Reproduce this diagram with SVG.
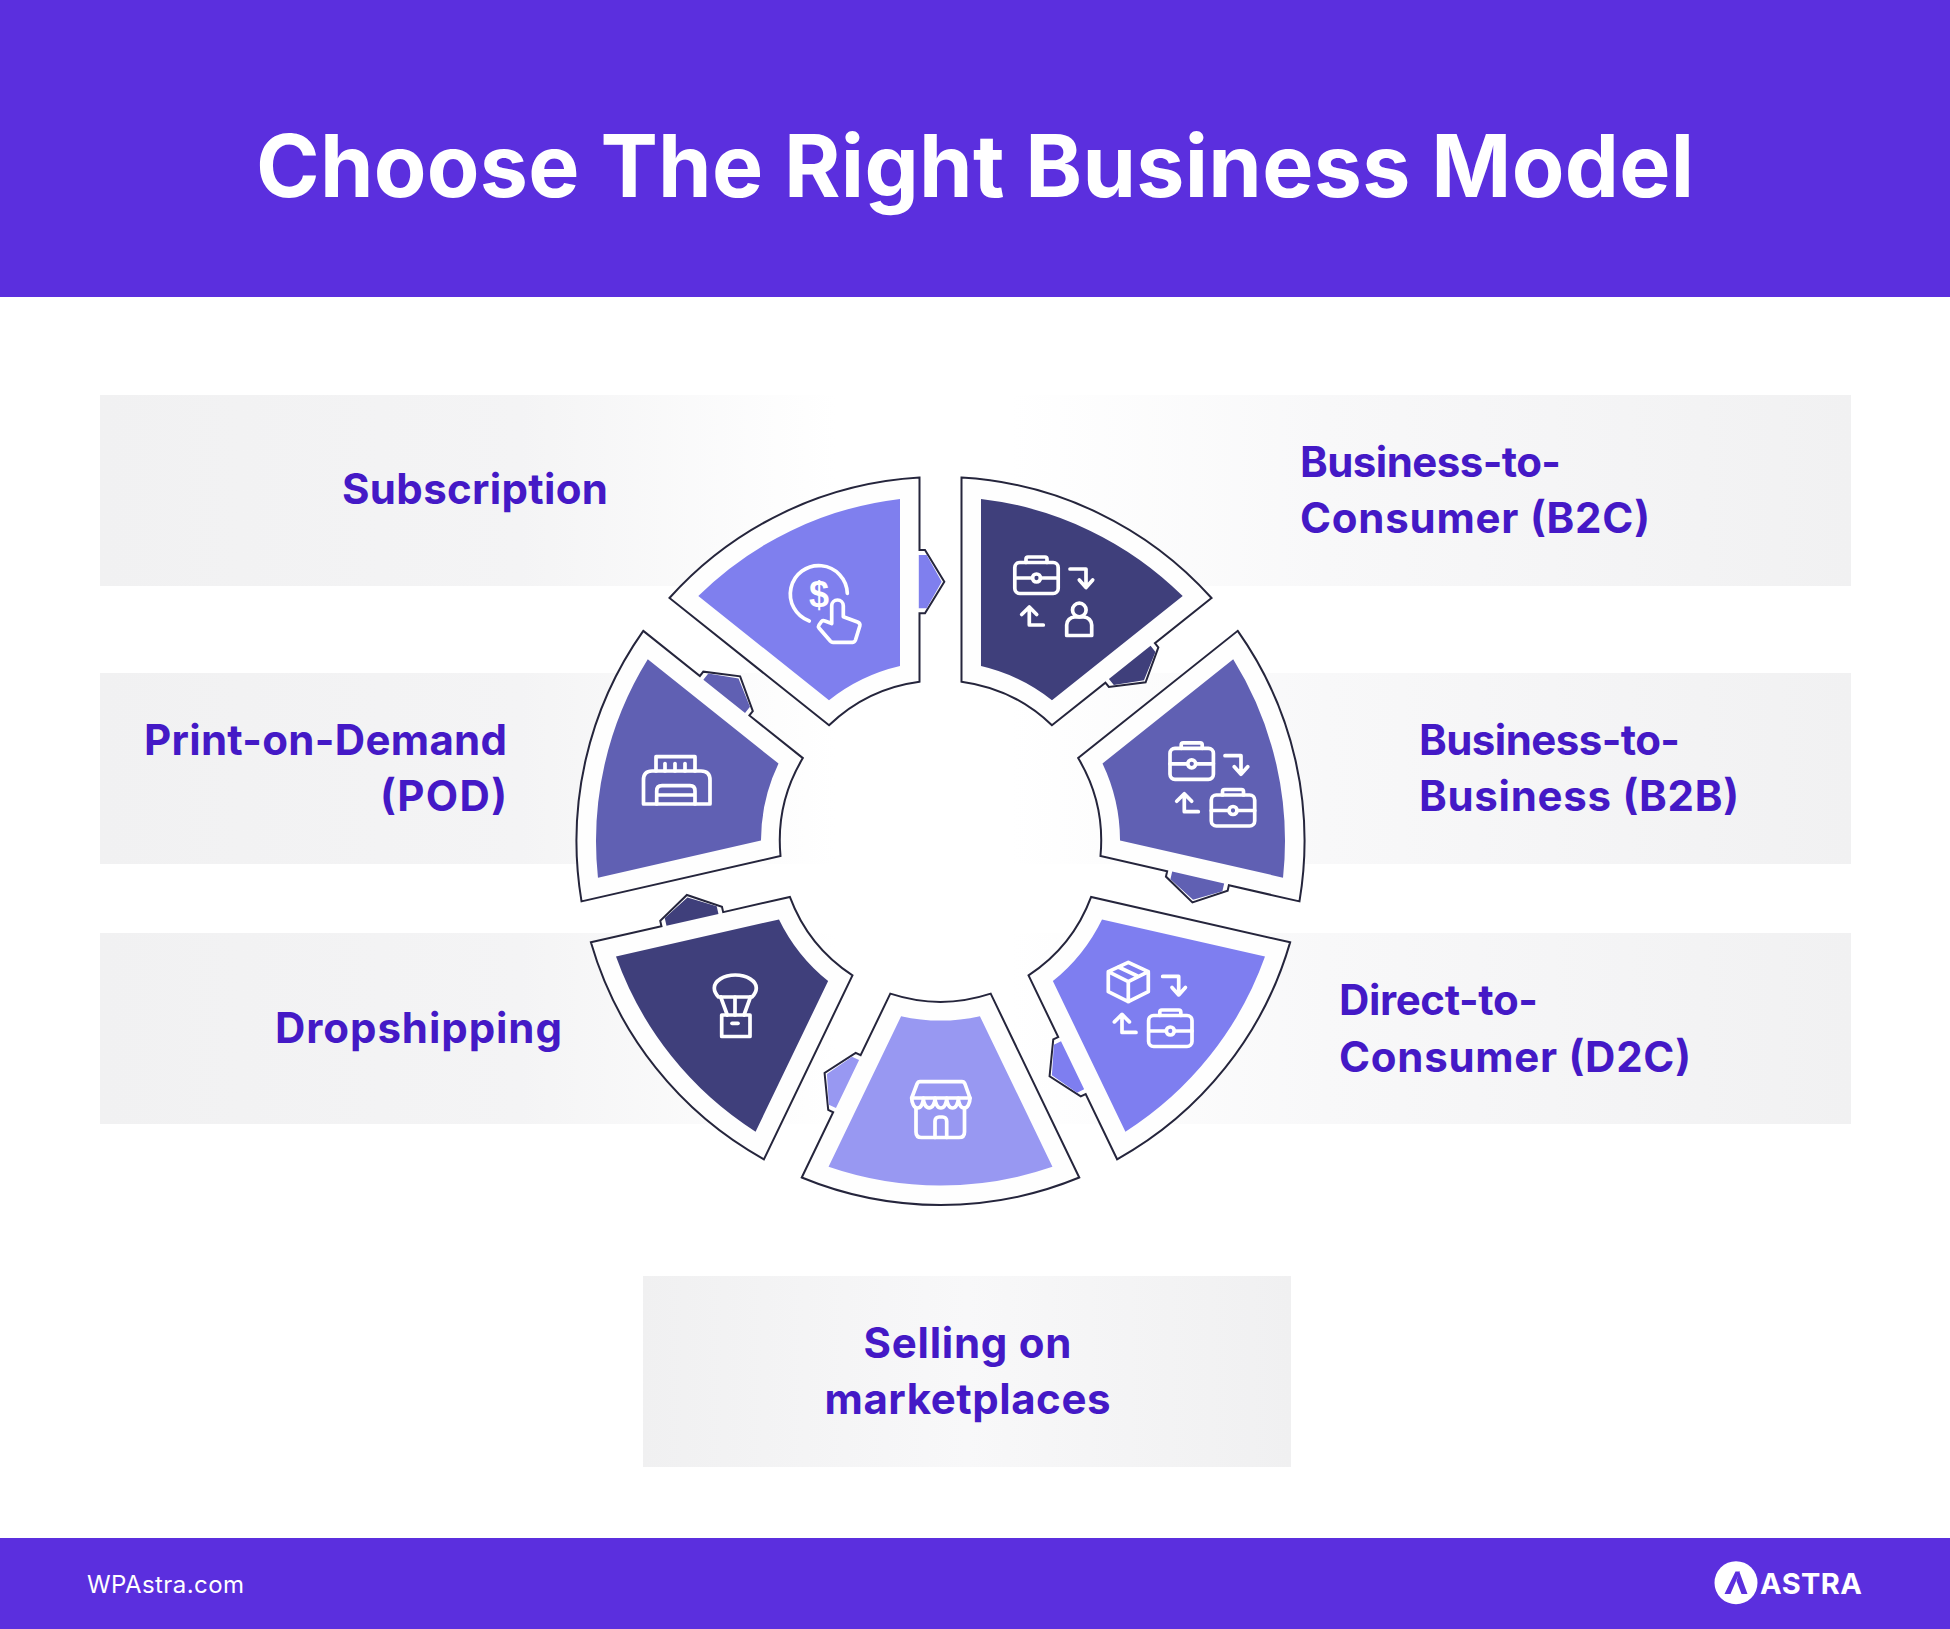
<svg xmlns="http://www.w3.org/2000/svg" xmlns:xlink="http://www.w3.org/1999/xlink" width="1950" height="1629" viewBox="0 0 1950 1629">
<style>
.bar{fill:#5b2fde}
.label{font-family:"Inter","Liberation Sans",sans-serif;font-weight:700;font-size:42px;fill:#4419c6}
.title{font-family:"Inter","Liberation Sans",sans-serif;font-weight:700;font-size:86px;fill:#fff}
.band{fill:#fefefe;stroke:#25253c;stroke-width:2;stroke-linejoin:miter}
.ic{fill:none;stroke:#fff;stroke-width:3.7;stroke-linejoin:round;stroke-linecap:round}
</style>
<defs>
<linearGradient id="rowGrad" gradientUnits="userSpaceOnUse" x1="100" y1="0" x2="1851" y2="0">
<stop offset="0" stop-color="#f1f1f2"/>
<stop offset="0.24" stop-color="#f4f4f5"/>
<stop offset="0.42" stop-color="#ffffff"/>
<stop offset="0.52" stop-color="#ffffff"/>
<stop offset="0.70" stop-color="#f8f8f9"/>
<stop offset="1" stop-color="#f1f1f2"/>
</linearGradient>
<linearGradient id="botGrad" gradientUnits="userSpaceOnUse" x1="643" y1="0" x2="1291" y2="0">
<stop offset="0" stop-color="#f0f0f1"/>
<stop offset="0.5" stop-color="#f8f8f9"/>
<stop offset="1" stop-color="#f0f0f1"/>
</linearGradient>
<path id="seg-band" class="band" d="M-21,-363.4 L-21,-291 L-15.5,-291 L3.8,-259.3 L-15.5,-227.7 L-21,-227.7 L-21,-159.3 A160.7,160.7 0 0 0 -111.46,-115.75 L-271.03,-243.01 A364,364 0 0 1 -21,-363.4 Z"/>
<path id="seg-core" d="M-40.5,-342.1 L-40.5,-174.9 A179.5,179.5 0 0 0 -111.49,-140.71 L-242.21,-244.96 A344.5,344.5 0 0 1 -40.5,-342.1 Z M-21.7,-286 L-13.8,-286 L1.2,-259.3 L-13.8,-232.7 L-21.7,-232.7 Z"/>
<g id="briefcase" class="ic">
<rect x="-21.7" y="-15.5" width="43.4" height="31" rx="5"/>
<path d="M-10.5,-15.5 V-19 Q-10.5,-21 -8.5,-21 H8.5 Q10.5,-21 10.5,-19 V-15.5"/>
<path d="M-21.7,0 H-4 M4,0 H21.7"/>
<circle cx="0" cy="0" r="4"/>
</g>
<g id="swap" class="ic">
<path d="M1070,569 H1086 V587 M1079.3,580 L1086,587.5 L1092.7,580"/>
<path d="M1043.3,625 H1029.3 V607.5 M1021.7,614.5 L1029.3,607 L1036.7,614.5"/>
</g>
</defs>

<rect id="header" class="bar" x="0" y="0" width="1950" height="297"/>
<text class="title" x="256" y="197" textLength="1438" lengthAdjust="spacing">Choose The Right Business Model</text>

<g id="panels">
<rect x="100" y="395" width="1751" height="191" fill="url(#rowGrad)"/>
<rect x="100" y="673" width="1751" height="191" fill="url(#rowGrad)"/>
<rect x="100" y="933" width="1751" height="191" fill="url(#rowGrad)"/>
<rect x="643" y="1276" width="648" height="191" fill="url(#botGrad)"/>
</g>

<g id="node-subscription">
<g transform="translate(940.5 841)" fill="#7f7fee"><use href="#seg-band"/><use href="#seg-core"/></g>
<path class="ic" d="M847.3,593.3 A28.5,28.5 0 1 0 809.3,621"/>
<text x="819" y="606.5" text-anchor="middle" style="font-family:'Liberation Sans',sans-serif;font-weight:700;font-size:36px;fill:#fff">$</text>
<path class="ic" d="M831.7,623.5 V605.8 a5.8,5.8 0 0 1 11.6,0 V616.7 L857.5,622 q3,1.2 2.3,4 L855.5,640 q-.7,2 -3,2.3 H833 q-1.5,0 -2.5,-1 L819,628 q-1,-1.5 0,-3 L821.5,621.5 q1.5,-1.5 3.5,-.5 Z"/>
<text class="label" x="342" y="504" textLength="266" lengthAdjust="spacing">Subscription</text>
</g>

<g id="node-b2c">
<g transform="translate(940.5 841) rotate(51.4286)" fill="#3f3f7b"><use href="#seg-band"/><use href="#seg-core"/></g>
<use href="#briefcase" x="1036.5" y="578"/>
<use href="#swap"/>
<g class="ic"><circle cx="1079.3" cy="610" r="6.8"/><path d="M1066.7,635.5 V625 a8,8 0 0 1 8,-8 H1083.7 a8,8 0 0 1 8,8 V635.5 Z"/></g>
<text class="label" x="1300" y="476.5" textLength="261" lengthAdjust="spacing">Business-to-</text>
<text class="label" x="1300" y="532.5" textLength="350" lengthAdjust="spacing">Consumer (B2C)</text>
</g>

<g id="node-b2b">
<g transform="translate(940.5 841) rotate(102.857)" fill="#6060b3"><use href="#seg-band"/><use href="#seg-core"/></g>
<use href="#briefcase" x="1191.7" y="763.8"/>
<use href="#briefcase" x="1233" y="810.5"/>
<use href="#swap" x="155" y="186.7"/>
<text class="label" x="1419" y="755" textLength="261" lengthAdjust="spacing">Business-to-</text>
<text class="label" x="1419" y="811" textLength="320" lengthAdjust="spacing">Business (B2B)</text>
</g>

<g id="node-d2c">
<g transform="translate(940.5 841) rotate(154.286)" fill="#7e7ef0"><use href="#seg-band"/><use href="#seg-core"/></g>
<g class="ic">
<path d="M1128.3,962.3 L1148.3,971.7 V991.7 L1128.3,1001.7 L1108.3,991.7 V971.7 Z M1108.3,971.7 L1128.3,981.7 L1148.3,971.7 M1128.3,981.7 V1001.7 M1118.5,967 L1138.5,976.5"/>
</g>
<use href="#briefcase" x="1170.3" y="1031"/>
<use href="#swap" x="92.7" y="407.4"/>
<text class="label" x="1339" y="1015" textLength="199" lengthAdjust="spacing">Direct-to-</text>
<text class="label" x="1339" y="1072" textLength="352" lengthAdjust="spacing">Consumer (D2C)</text>
</g>

<g id="node-marketplaces">
<g transform="translate(940.5 841) rotate(205.714)" fill="#9898f2"><use href="#seg-band"/><use href="#seg-core"/></g>
<g class="ic">
<path d="M911.7,1098 L917,1084 Q918,1081.7 920,1081.7 H962 Q964,1081.7 965,1084 L970,1098 Z"/>
<path d="M911.7,1098 a5.83,10 0 0 0 11.66,0 a5.83,10 0 0 0 11.66,0 a5.83,10 0 0 0 11.66,0 a5.83,10 0 0 0 11.66,0 a5.83,10 0 0 0 11.66,0"/>
<path d="M916,1108 V1132 Q916,1137.5 921.5,1137.5 H959 Q964.5,1137.5 964.5,1132 V1108"/>
<path d="M935,1137.5 V1121 a4,4 0 0 1 4,-4 H942.7 a4,4 0 0 1 4,4 V1137.5"/>
</g>
<text class="label" x="967.5" y="1358" text-anchor="middle" textLength="208" lengthAdjust="spacing">Selling on</text>
<text class="label" x="967.5" y="1414" text-anchor="middle" textLength="286" lengthAdjust="spacing">marketplaces</text>
</g>

<g id="node-dropshipping">
<g transform="translate(940.5 841) rotate(257.143)" fill="#3f3f7b"><use href="#seg-band"/><use href="#seg-core"/></g>
<g class="ic">
<path d="M718.5,997 Q714.3,992.5 714.3,988 A21,13 0 0 1 756.3,988 Q756.3,992.5 752,997 Z" />
<path d="M720.7,997 L727.3,1015 M735,997 V1015 M750.5,997 L744,1015"/>
<rect x="721.7" y="1015" width="28.3" height="21.5"/>
<path d="M732,1023.3 H738"/>
</g>
<text class="label" x="275" y="1043" textLength="287" lengthAdjust="spacing">Dropshipping</text>
</g>

<g id="node-pod">
<g transform="translate(940.5 841) rotate(308.571)" fill="#6060b3"><use href="#seg-band"/><use href="#seg-core"/></g>
<g class="ic">
<path d="M656,771 V756.7 H695 V771"/>
<path d="M665,763.5 V771 M675,763.5 V771 M685,763.5 V771"/>
<path d="M643.5,804 V780 Q643.5,771 652,771 H701 Q710,771 710,780 V804 Z"/>
<path d="M656.7,804 V791 Q656.7,785.7 662,785.7 H690 Q695,785.7 695,791 V804 M656.7,795 H695"/>
</g>
<text class="label" x="144" y="755" textLength="363" lengthAdjust="spacing">Print-on-Demand</text>
<text class="label" x="507" y="811" text-anchor="end" textLength="127" lengthAdjust="spacing">(POD)</text>
</g>

<rect id="footer" class="bar" x="0" y="1538" width="1950" height="91"/>
<text x="87" y="1593" textLength="157" lengthAdjust="spacing" style="font-family:'Inter','Liberation Sans',sans-serif;font-size:24px;fill:#fff">WPAstra.com</text>
<g id="logo">
<circle cx="1736" cy="1582.7" r="21.5" fill="#fff"/>
<path d="M1735.5,1571.5 H1740 L1730.5,1594 H1724.5 Z M1739.5,1572 L1747.5,1594 H1741.5 L1736.5,1581 Z" fill="#5b2fde"/>
<text x="1760" y="1594" textLength="102" lengthAdjust="spacing" style="font-family:'Inter','Liberation Sans',sans-serif;font-weight:700;font-size:29px;fill:#fff">ASTRA</text>
</g>
</svg>
